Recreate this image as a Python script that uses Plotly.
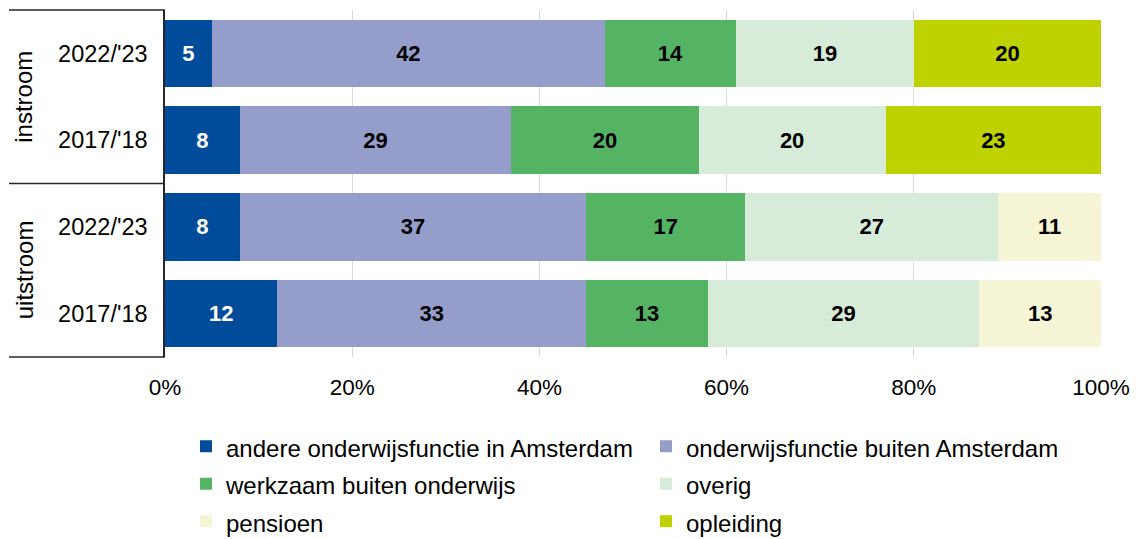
import plotly.graph_objects as go

# Categories (top to bottom): group and school year
groups = ["instroom", "instroom", "uitstroom", "uitstroom"]
years = ["2022/'23", "2017/'18", "2022/'23", "2017/'18"]

# Share per destination (percent)
series_names = [
    "andere onderwijsfunctie in Amsterdam",
    "onderwijsfunctie buiten Amsterdam",
    "werkzaam buiten onderwijs",
    "overig",
    "pensioen",
    "opleiding",
]
andere_amsterdam = [5, 8, 8, 12]
buiten_amsterdam = [42, 29, 37, 33]
buiten_onderwijs = [14, 20, 17, 13]
overig = [19, 20, 27, 29]
pensioen = [None, None, 11, 13]
opleiding = [20, 23, None, None]

x_ticks = [0, 20, 40, 60, 80, 100]
x_tick_labels = ["0%", "20%", "40%", "60%", "80%", "100%"]

colors = ["#004B9A", "#959DCB", "#55B463", "#D7ECD8", "#F5F5D6", "#BED200"]
label_colors = ["white", "black", "black", "black", "black", "black"]

# Stacking order of segments from left to right
stack_order = [0, 1, 2, 3, 5, 4]
values = [andere_amsterdam, buiten_amsterdam, buiten_onderwijs, overig, pensioen, opleiding]

keys = [f"{g} {y}" for g, y in zip(groups, years)]

FONT = "Liberation Sans, Arial, sans-serif"

fig = go.Figure()
for i in stack_order:
    vals = values[i]
    fig.add_trace(go.Bar(
        # legend rows use a taller line box than the visible text size
        name=f'<span style="font-size:24px">{series_names[i]}</span>',
        y=keys,
        x=vals,
        orientation="h",
        marker=dict(color=colors[i], line=dict(width=0)),
        text=[("" if v is None else str(v)) for v in vals],
        textposition="inside",
        insidetextanchor="middle",
        textangle=0,
        constraintext="none",
        textfont=dict(family=FONT, size=22, color=label_colors[i], weight="bold"),
        hoverinfo="skip",
        legendrank=i,
    ))

# Group separators on the left of the category axis
line_style = dict(color="#262626", width=1.5)
x_left = (9 - 165) / 936
for yv, ref in [(1, "paper"), (0, "paper"), (1.5, "y")]:
    fig.add_shape(type="line", xref="paper", yref=ref, x0=x_left, x1=0,
                  y0=yv, y1=yv, line=line_style, layer="above")

# Rotated group labels
for label, ymid in [("instroom", 0.5), ("uitstroom", 2.5)]:
    fig.add_annotation(text=label, xref="paper", yref="y", x=(24 - 165) / 936, y=ymid,
                       xanchor="center", yanchor="middle",
                       textangle=-90, showarrow=False,
                       font=dict(family=FONT, size=24, color="black"))

fig.update_layout(
    barmode="stack",
    bargap=0.22,
    width=1139,
    height=539,
    margin=dict(l=165, r=38, t=10, b=182, autoexpand=False),
    plot_bgcolor="white",
    paper_bgcolor="white",
    font=dict(family=FONT, size=22, color="black"),
    xaxis=dict(
        range=[0, 100],
        tickvals=x_ticks,
        ticktext=x_tick_labels,
        showgrid=True,
        gridcolor="#D9D9D9",
        gridwidth=1,
        zeroline=False,
        showline=False,
        ticks="",
        ticklabelstandoff=14,
        tickfont=dict(size=22.5),
        fixedrange=True,
    ),
    yaxis=dict(
        type="category",
        categoryorder="array",
        categoryarray=keys,
        tickvals=keys,
        ticktext=years,
        autorange="reversed",
        showline=True,
        linecolor="#262626",
        linewidth=1.5,
        ticks="",
        ticklabelstandoff=11,
        tickfont=dict(size=23.5),
        showgrid=False,
        fixedrange=True,
    ),
    legend=dict(
        orientation="h",
        x=186 / 1139,
        xref="container",
        y=-0.189,
        yanchor="top",
        xanchor="left",
        entrywidth=415,
        font=dict(family=FONT, size=26.5),
        traceorder="normal",
    ),
    showlegend=True,
)

fig.write_html("out.html")
